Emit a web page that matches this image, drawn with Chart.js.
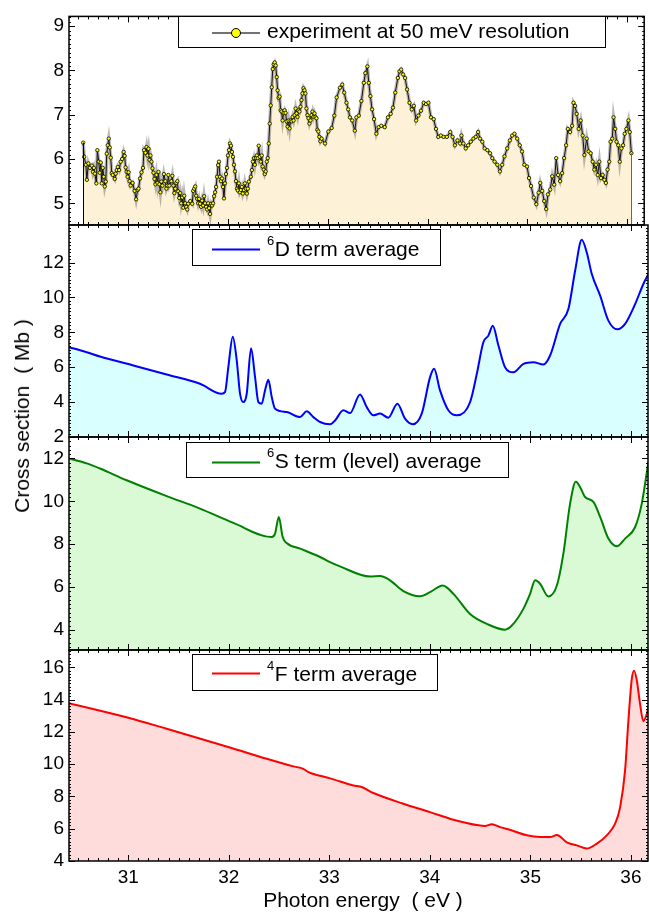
<!DOCTYPE html>
<html>
<head>
<meta charset="utf-8">
<script src="https://cdn.jsdelivr.net/npm/chart.js@4.4.0/dist/chart.umd.min.js"></script>
<style>
  html, body { margin: 0; padding: 0; background: #fff; }
  #wrap { position: relative; width: 649px; height: 915px; overflow: hidden; }
  #wrap canvas { position: absolute; left: 0; top: 0; }
  .axis-title { position: absolute; font: 21px "Liberation Sans", Arial, sans-serif; color: #000; white-space: nowrap; }
  #ytitle { left: 22px; top: 416px; transform: translate(-50%, -50%) rotate(-90deg); }
  #xtitle { left: 363px; top: 900px; transform: translate(-50%, -50%); }
</style>
</head>
<body>
<div id="wrap">
  <canvas id="c1" width="649" height="915"></canvas>
  <canvas id="c2" width="649" height="915"></canvas>
  <canvas id="c3" width="649" height="915"></canvas>
  <canvas id="c4" width="649" height="915"></canvas>
  <div class="axis-title" id="ytitle">Cross section&nbsp;&nbsp;( Mb )</div>
  <div class="axis-title" id="xtitle">Photon energy&nbsp;&nbsp;( eV )</div>
</div>
<script>
// x axis (photon energy, eV)
const xTicks = [31, 32, 33, 34, 35, 36];

// experiment at 50 meV resolution
const expEnergy = [
  30.552, 30.562, 30.579, 30.589, 30.604, 30.619, 30.639, 30.649, 30.659, 30.669,
  30.684, 30.694, 30.708, 30.718, 30.728, 30.738, 30.748, 30.758, 30.768, 30.778,
  30.788, 30.798, 30.808, 30.818, 30.828, 30.838, 30.848, 30.868, 30.878, 30.888,
  30.898, 30.912, 30.927, 30.942, 30.957, 30.967, 30.977, 30.987, 30.997, 31.007,
  31.017, 31.027, 31.047, 31.067, 31.082, 31.097, 31.106, 31.121, 31.136, 31.151,
  31.161, 31.176, 31.186, 31.196, 31.206, 31.216, 31.226, 31.236, 31.246, 31.256,
  31.266, 31.276, 31.286, 31.296, 31.306, 31.315, 31.325, 31.335, 31.345, 31.360,
  31.375, 31.385, 31.395, 31.405, 31.415, 31.435, 31.445, 31.455, 31.465, 31.475,
  31.485, 31.495, 31.504, 31.514, 31.524, 31.534, 31.544, 31.554, 31.564, 31.574,
  31.584, 31.594, 31.604, 31.624, 31.644, 31.654, 31.664, 31.674, 31.684, 31.694,
  31.703, 31.713, 31.723, 31.733, 31.743, 31.753, 31.763, 31.773, 31.783, 31.793,
  31.803, 31.813, 31.823, 31.833, 31.843, 31.853, 31.863, 31.873, 31.883, 31.893,
  31.903, 31.912, 31.922, 31.932, 31.942, 31.952, 31.962, 31.972, 31.982, 31.992,
  32.002, 32.012, 32.022, 32.032, 32.042, 32.052, 32.062, 32.072, 32.082, 32.092,
  32.101, 32.111, 32.121, 32.131, 32.141, 32.151, 32.161, 32.171, 32.181, 32.191,
  32.201, 32.211, 32.231, 32.241, 32.251, 32.261, 32.271, 32.281, 32.291, 32.300,
  32.310, 32.320, 32.330, 32.340, 32.350, 32.360, 32.370, 32.380, 32.390, 32.400,
  32.410, 32.420, 32.430, 32.440, 32.450, 32.460, 32.470, 32.480, 32.490, 32.499,
  32.509, 32.519, 32.529, 32.539, 32.549, 32.559, 32.569, 32.579, 32.589, 32.599,
  32.609, 32.619, 32.629, 32.639, 32.649, 32.659, 32.669, 32.679, 32.689, 32.698,
  32.708, 32.718, 32.728, 32.738, 32.748, 32.758, 32.768, 32.778, 32.788, 32.798,
  32.808, 32.818, 32.828, 32.838, 32.848, 32.858, 32.868, 32.878, 32.888, 32.897,
  32.907, 32.917, 32.927, 32.940, 32.974, 33.007, 33.040, 33.067, 33.090, 33.123,
  33.146, 33.166, 33.189, 33.206, 33.223, 33.246, 33.272, 33.288, 33.312, 33.338,
  33.362, 33.378, 33.398, 33.412, 33.428, 33.445, 33.465, 33.488, 33.511, 33.537,
  33.571, 33.604, 33.631, 33.654, 33.677, 33.703, 33.720, 33.736, 33.756, 33.776,
  33.796, 33.820, 33.843, 33.863, 33.886, 33.909, 33.935, 33.962, 33.985, 34.009,
  34.035, 34.062, 34.085, 34.108, 34.134, 34.161, 34.194, 34.228, 34.251, 34.274,
  34.300, 34.327, 34.340, 34.360, 34.383, 34.407, 34.433, 34.460, 34.483, 34.507,
  34.526, 34.549, 34.572, 34.599, 34.626, 34.649, 34.672, 34.699, 34.725, 34.748,
  34.771, 34.798, 34.825, 34.848, 34.871, 34.898, 34.924, 34.947, 34.970, 34.997,
  35.017, 35.037, 35.064, 35.090, 35.113, 35.129, 35.149, 35.169, 35.189, 35.206,
  35.229, 35.249, 35.269, 35.289, 35.308, 35.328, 35.348, 35.368, 35.388, 35.405,
  35.428, 35.448, 35.462, 35.478, 35.494, 35.514, 35.534, 35.554, 35.571, 35.594,
  35.614, 35.634, 35.654, 35.671, 35.687, 35.704, 35.721, 35.737, 35.754, 35.771,
  35.786, 35.803, 35.820, 35.833, 35.850, 35.863, 35.880, 35.893, 35.910, 35.925,
  35.942, 35.959, 35.975, 35.992, 36.012, 36.025, 36.042
];
const expCross = [
  6.37, 6.05, 5.87, 5.53, 5.90, 5.80, 5.85, 5.71, 5.80, 5.67,
  5.45, 6.20, 5.94, 5.69, 5.92, 5.45, 5.80, 5.60, 5.38, 5.49,
  6.12, 6.31, 6.46, 6.26, 6.03, 5.68, 5.64, 5.55, 5.67, 5.75,
  5.82, 5.75, 5.94, 6.00, 6.16, 6.07, 5.81, 5.71, 5.60, 5.70,
  5.50, 5.40, 5.46, 5.28, 5.09, 5.30, 5.33, 5.56, 5.70, 5.80,
  6.20, 6.14, 6.27, 6.08, 6.23, 5.98, 6.08, 5.94, 5.79, 5.69,
  5.55, 5.43, 5.64, 5.46, 5.71, 5.43, 5.25, 5.49, 5.40, 5.66,
  5.50, 5.33, 5.40, 5.64, 5.40, 5.50, 5.62, 5.40, 5.23, 5.33,
  5.46, 5.50, 5.27, 5.12, 5.23, 5.00, 5.13, 4.90, 5.17, 5.00,
  4.92, 4.86, 4.99, 5.05, 4.99, 5.28, 5.33, 5.38, 5.17, 5.10,
  5.00, 5.10, 4.99, 4.92, 5.06, 4.95, 5.16, 5.00, 4.92, 4.86,
  5.00, 4.89, 4.76, 4.99, 4.95, 5.00, 5.16, 5.25, 5.37, 5.60,
  5.86, 5.94, 5.60, 5.50, 5.56, 5.37, 5.11, 5.45, 5.66, 5.80,
  6.08, 6.20, 6.35, 6.30, 6.16, 6.05, 5.87, 5.72, 5.50, 5.33,
  5.29, 5.45, 5.25, 5.30, 5.37, 5.22, 5.30, 5.45, 5.33, 5.22,
  5.33, 5.49, 5.60, 5.75, 5.94, 6.02, 5.87, 6.02, 6.08, 6.02,
  6.30, 6.05, 5.94, 6.08, 5.83, 5.76, 5.66, 5.72, 5.94, 6.02,
  6.35, 6.80, 7.21, 7.62, 8.03, 8.14, 8.18, 8.11, 7.85, 7.55,
  7.38, 7.41, 7.10, 7.07, 6.87, 7.04, 7.10, 7.04, 6.85, 6.73,
  6.87, 6.69, 6.87, 6.85, 6.95, 6.87, 6.99, 7.14, 7.03, 6.95,
  7.10, 7.07, 7.18, 7.33, 7.48, 7.60, 7.55, 7.48, 7.14, 6.99,
  6.92, 6.80, 6.87, 6.99, 7.07, 6.95, 7.03, 6.95, 6.92, 6.66,
  6.62, 6.50, 6.40, 6.46, 6.35, 6.62, 6.70, 6.98, 7.39, 7.61,
  7.68, 7.50, 7.27, 7.12, 6.94, 6.87, 6.64, 6.94, 6.98, 7.31,
  7.72, 7.94, 8.09, 7.72, 7.42, 7.12, 6.90, 6.57, 6.72, 6.75,
  6.72, 6.94, 7.02, 7.16, 7.50, 7.83, 7.98, 8.02, 7.91, 7.83,
  7.57, 7.27, 7.12, 7.20, 6.87, 6.98, 7.09, 7.27, 7.24, 7.27,
  6.94, 6.90, 6.68, 6.50, 6.53, 6.50, 6.50, 6.61, 6.50, 6.31,
  6.42, 6.35, 6.53, 6.35, 6.24, 6.31, 6.39, 6.46, 6.50, 6.61,
  6.46, 6.39, 6.24, 6.20, 6.13, 6.02, 5.94, 5.87, 5.72, 5.87,
  6.06, 6.24, 6.42, 6.53, 6.57, 6.46, 6.31, 6.17, 5.87, 5.83,
  5.57, 5.39, 5.13, 4.98, 5.24, 5.46, 5.28, 5.05, 4.87, 5.20,
  5.31, 5.61, 5.42, 6.02, 5.64, 5.50, 5.68, 6.02, 6.31, 6.68,
  6.61, 6.75, 7.27, 7.20, 7.02, 6.68, 6.87, 6.53, 6.09, 6.46,
  6.17, 6.13, 5.94, 5.76, 5.87, 5.64, 5.94, 5.57, 5.64, 5.53,
  5.46, 5.76, 5.94, 6.39, 6.46, 6.94, 6.68, 6.39, 6.31, 5.94,
  6.24, 6.31, 6.57, 6.68, 6.87, 6.61, 6.13
];

// 6D term average
const dEnergy = [
  30.410, 30.586, 30.718, 31.050, 31.382, 31.713, 31.929, 31.962, 31.995, 32.039,
  32.079, 32.111, 32.144, 32.178, 32.221, 32.261, 32.294, 32.327, 32.360, 32.393,
  32.427, 32.460, 32.576, 32.709, 32.775, 32.841, 32.907, 33.007, 33.057, 33.139,
  33.206, 33.305, 33.372, 33.438, 33.504, 33.587, 33.677, 33.753, 33.830, 33.919,
  34.002, 34.042, 34.101, 34.184, 34.268, 34.400, 34.467, 34.532, 34.582, 34.626,
  34.682, 34.748, 34.831, 34.930, 35.030, 35.129, 35.196, 35.296, 35.378, 35.445,
  35.511, 35.561, 35.611, 35.694, 35.776, 35.866, 35.942, 36.042, 36.124, 36.174
];
const dCross = [
  7.15, 6.86, 6.61, 6.10, 5.58, 5.05, 4.48, 4.57, 6.00, 7.75,
  6.38, 4.50, 4.00, 4.48, 7.09, 5.43, 4.00, 3.91, 4.67, 5.28,
  4.29, 3.62, 3.43, 3.14, 3.47, 3.14, 2.86, 2.73, 2.95, 3.53,
  3.37, 4.44, 3.71, 3.24, 3.34, 3.11, 3.91, 3.05, 2.73, 3.34,
  5.43, 5.91, 4.67, 3.53, 3.24, 4.00, 5.62, 7.43, 7.81, 8.38,
  7.24, 6.00, 5.71, 6.19, 6.29, 6.15, 6.67, 8.48, 9.33, 11.53,
  13.30, 12.57, 11.34, 10.10, 8.67, 8.17, 8.48, 9.62, 10.77, 11.34
];

// 6S term (level) average
const sEnergy = [
  30.410, 30.586, 30.718, 30.984, 31.382, 31.713, 32.045, 32.427, 32.460, 32.497,
  32.536, 32.576, 32.709, 32.907, 33.007, 33.106, 33.405, 33.504, 33.604, 33.736,
  33.902, 34.002, 34.128, 34.234, 34.400, 34.566, 34.748, 34.815, 34.930, 34.997,
  35.047, 35.096, 35.179, 35.263, 35.328, 35.395, 35.452, 35.494, 35.544, 35.627,
  35.694, 35.776, 35.860, 35.942, 36.042, 36.108, 36.174
];
const sCross = [
  12.00, 11.77, 11.53, 10.98, 10.24, 9.66, 8.99, 8.33, 8.49, 9.27,
  8.33, 8.05, 7.79, 7.40, 7.16, 6.96, 6.49, 6.51, 6.31, 5.81,
  5.57, 5.76, 6.07, 5.68, 4.74, 4.28, 4.01, 4.20, 4.98, 5.68,
  6.31, 6.15, 5.56, 6.07, 7.56, 9.89, 10.91, 10.67, 10.20, 9.97,
  9.27, 8.26, 7.90, 8.26, 8.80, 9.89, 11.84
];

// 4F term average
const fEnergy = [
  30.410, 31.000, 31.382, 32.002, 32.377, 32.642, 32.741, 32.791, 32.907, 33.007,
  33.239, 33.322, 33.438, 33.736, 34.002, 34.234, 34.483, 34.549, 34.616, 34.699,
  34.831, 34.964, 35.096, 35.196, 35.263, 35.362, 35.462, 35.561, 35.661, 35.760,
  35.843, 35.893, 35.942, 35.975, 36.009, 36.032, 36.059, 36.091, 36.124, 36.158,
  36.181
];
const fCross = [
  13.77, 12.87, 12.19, 11.05, 10.33, 9.86, 9.71, 9.50, 9.28, 9.12,
  8.68, 8.58, 8.21, 7.55, 7.03, 6.56, 6.21, 6.17, 6.27, 6.10,
  5.86, 5.59, 5.48, 5.48, 5.61, 5.16, 4.97, 4.77, 5.08, 5.59,
  6.31, 7.34, 9.61, 12.70, 15.28, 15.79, 15.18, 13.73, 12.66, 13.12,
  13.73
];

// y tick labels per panel
const yTicksExp = [5, 6, 7, 8, 9];
const yTicksD = [2, 4, 6, 8, 10, 12];
const yTicksS = [4, 6, 8, 10, 12];
const yTicksF = [4, 6, 8, 10, 12, 14, 16];

const FONT = '"Liberation Sans", Arial, sans-serif';
const PAGE_H = 915;

// frame: box, inward ticks on all four sides, edge drops of the experiment
const framePlugin = {
  id: 'frame',
  afterDatasetsDraw(chart) {
    const o = chart.options.plugins.frame;
    const { ctx, chartArea: a, scales: { x, y } } = chart;
    ctx.save();
    ctx.strokeStyle = '#000';
    ctx.lineWidth = 1;

    if (o.edges) {
      const pts = chart.getDatasetMeta(0).data;
      const first = pts[0], last = pts[pts.length - 1];
      ctx.beginPath();
      ctx.moveTo(Math.round(first.x) + 0.5, first.y);
      ctx.lineTo(Math.round(first.x) + 0.5, a.bottom);
      ctx.stroke();
      ctx.strokeStyle = '#666';
      ctx.beginPath();
      ctx.moveTo(Math.round(last.x) + 0.5, last.y);
      ctx.lineTo(Math.round(last.x) + 0.5, a.bottom);
      ctx.stroke();
      ctx.strokeStyle = '#000';
    }

    ctx.beginPath();
    for (let k = 305; k <= 361; k++) {
      const px = Math.round(x.getPixelForValue(k / 10)) + 0.5;
      const len = k % 10 === 0 ? 6 : 3;
      ctx.moveTo(px, a.bottom); ctx.lineTo(px, a.bottom - len);
      ctx.moveTo(px, a.top); ctx.lineTo(px, a.top + len);
    }
    const step = o.minorStep;
    const k0 = Math.ceil(y.min / step - 1e-6), k1 = Math.floor(y.max / step + 1e-6);
    for (let k = k0; k <= k1; k++) {
      const v = k * step;
      const major = o.ticks.some(t => Math.abs(t - v) < 1e-6);
      const py = Math.round(y.getPixelForValue(v)) + 0.5;
      const len = major ? 6 : 2;
      ctx.moveTo(a.left, py); ctx.lineTo(a.left + len, py);
      ctx.moveTo(a.right, py); ctx.lineTo(a.right - len, py);
    }
    ctx.stroke();
    ctx.lineWidth = 1.5;
    ctx.strokeRect(a.left, a.top, a.right - a.left, a.bottom - a.top);
    ctx.restore();
  }
};

// boxed legend with optional superscript
const keyPlugin = {
  id: 'key',
  afterDraw(chart) {
    const k = chart.options.plugins.key;
    const ctx = chart.ctx;
    const [bx, by, bw, bh] = k.box;
    ctx.save();
    ctx.fillStyle = '#fff';
    ctx.fillRect(bx, by, bw, bh);
    ctx.strokeStyle = '#000';
    ctx.lineWidth = 1;
    ctx.strokeRect(bx + 0.5, by + 0.5, bw, bh);

    ctx.strokeStyle = k.color;
    ctx.lineWidth = k.lineWidth;
    ctx.beginPath();
    ctx.moveTo(212, k.lineY);
    ctx.lineTo(260, k.lineY);
    ctx.stroke();
    if (k.marker) {
      ctx.beginPath();
      ctx.arc(236, k.lineY, 4.5, 0, Math.PI * 2);
      ctx.fillStyle = '#ffff00';
      ctx.fill();
      ctx.strokeStyle = '#000';
      ctx.lineWidth = 1;
      ctx.stroke();
    }

    ctx.fillStyle = '#000';
    ctx.textBaseline = 'middle';
    ctx.textAlign = 'left';
    let tx = 267;
    if (k.sup) {
      ctx.font = '13px ' + FONT;
      ctx.fillText(k.sup, tx, k.textY - 9);
      tx += ctx.measureText(k.sup).width + 0.5;
    }
    ctx.font = '21px ' + FONT;
    ctx.fillText(k.text, tx, k.textY);
    ctx.restore();
  }
};

function buildPanel(id, p) {
  const points = p.energy.map((e, i) => ({ x: e, y: p.cross[i] }));
  const showX = !!p.showX;
  const datasets = [{
    data: points,
    borderColor: p.color,
    borderWidth: p.lineWidth,
    backgroundColor: p.fill,
    fill: 'start',
    order: 0,
    tension: p.smooth ? 0.4 : 0,
    cubicInterpolationMode: p.smooth ? 'monotone' : 'default',
    pointRadius: p.marker ? 1.7 : 0,
    pointBackgroundColor: '#ffff00',
    pointBorderColor: '#000',
    pointBorderWidth: 0.8
  }];
  if (p.halo) {
    // grey smear behind the measured trace
    datasets.push({
      data: points,
      borderColor: 'rgba(60, 60, 60, 0.35)',
      borderWidth: 3.5,
      fill: false,
      order: 1,
      tension: 0,
      pointRadius: 0
    });
  }
  return new Chart(document.getElementById(id), {
    type: 'line',
    data: { datasets },
    options: {
      responsive: false,
      animation: false,
      devicePixelRatio: 1,
      layout: { padding: { left: 0, right: 1, top: p.top, bottom: showX ? 0 : PAGE_H - p.bottom } },
      plugins: {
        legend: { display: false },
        tooltip: { enabled: false },
        filler: { drawTime: 'beforeDatasetsDraw' },
        frame: { ticks: p.yTicks, minorStep: p.minorStep, edges: !!p.marker },
        key: p.key
      },
      scales: {
        x: {
          type: 'linear',
          min: 30.41,
          max: 36.17,
          display: showX,
          grid: { display: false, drawTicks: false },
          border: { display: false },
          ticks: { font: { family: FONT, size: 19 }, color: '#000', padding: 5, maxRotation: 0, autoSkip: false },
          afterBuildTicks: s => { s.ticks = xTicks.map(v => ({ value: v })); },
          afterFit: s => { s.height = showX ? PAGE_H - p.bottom : 0; }
        },
        y: {
          type: 'linear',
          min: p.yMin,
          max: p.yMax,
          grid: { display: false, drawTicks: false },
          border: { display: false },
          ticks: { font: { family: FONT, size: 19 }, color: '#000', padding: 5, autoSkip: false },
          afterBuildTicks: s => { s.ticks = p.yTicks.map(v => ({ value: v })); },
          afterFit: s => { s.width = 69; }
        }
      }
    },
    plugins: [framePlugin, keyPlugin]
  });
}

buildPanel('c1', {
  energy: expEnergy, cross: expCross, top: 13, bottom: 225,
  yMin: 4.51, yMax: 9.22, yTicks: yTicksExp, minorStep: 0.1,
  color: '#111', lineWidth: 1, fill: '#fdf1d7', marker: true, halo: true, smooth: false,
  key: { box: [178, 16, 427, 31], lineY: 33, textY: 32.5, color: '#444', lineWidth: 1.5, marker: true, text: 'experiment at 50 meV resolution' }
});
buildPanel('c2', {
  energy: dEnergy, cross: dCross, top: 225, bottom: 437,
  yMin: 2, yMax: 14.15, yTicks: yTicksD, minorStep: 0.2,
  color: '#0000ff', lineWidth: 2, fill: '#d9ffff', smooth: true,
  key: { box: [192, 229, 248, 36], lineY: 249.5, textY: 250.5, color: '#0000ff', lineWidth: 2, sup: '6', text: 'D term average' }
});
buildPanel('c3', {
  energy: sEnergy, cross: sCross, top: 437, bottom: 650,
  yMin: 3.06, yMax: 13.0, yTicks: yTicksS, minorStep: 0.2,
  color: '#008000', lineWidth: 2, fill: '#dafad5', smooth: true,
  key: { box: [186, 442, 322, 35], lineY: 462.5, textY: 462.5, color: '#008000', lineWidth: 2, sup: '6', text: 'S term (level) average' }
});
buildPanel('c4', {
  energy: fEnergy, cross: fCross, top: 650, bottom: 861, showX: true,
  yMin: 4, yMax: 17.07, yTicks: yTicksF, minorStep: 0.2,
  color: '#ff0000', lineWidth: 2, fill: '#ffdcdc', smooth: true,
  key: { box: [192, 654, 245, 36], lineY: 673.5, textY: 675, color: '#ff0000', lineWidth: 2, sup: '4', text: 'F term average' }
});
</script>
</body>
</html>
